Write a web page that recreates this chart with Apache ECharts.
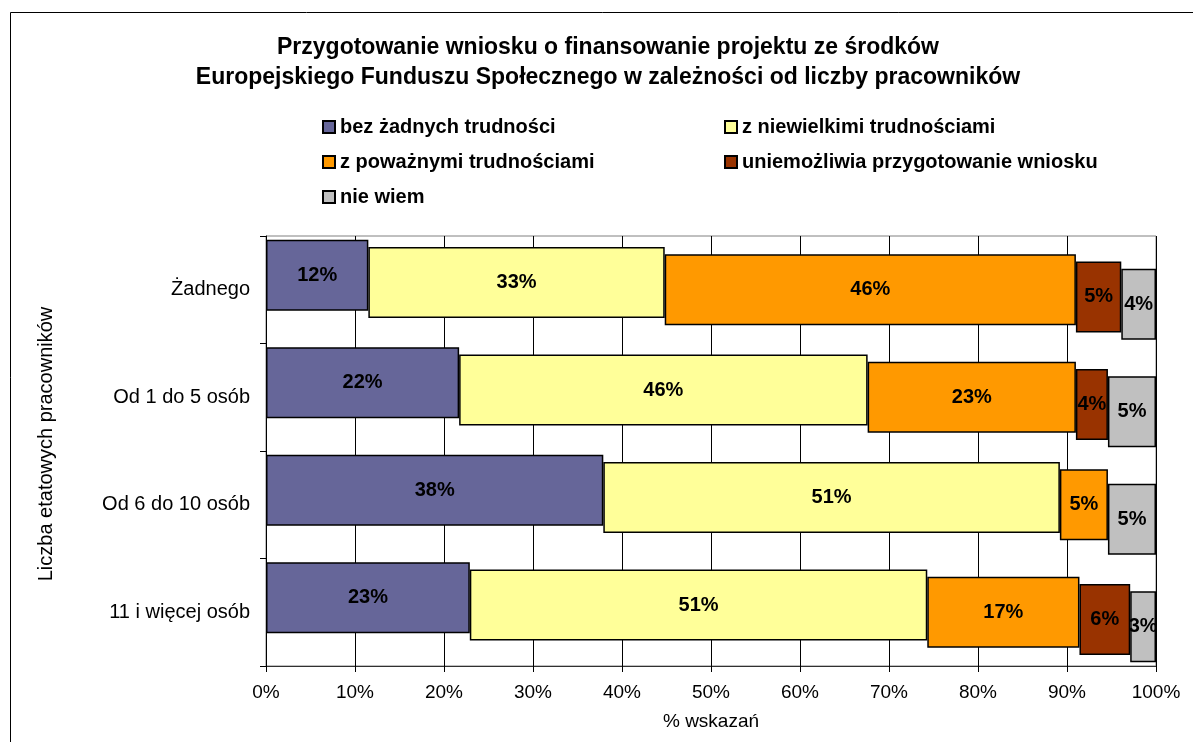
<!DOCTYPE html>
<html>
<head>
<meta charset="utf-8">
<script src="https://cdn.jsdelivr.net/npm/echarts@6/dist/echarts.min.js"></script>
<style>
html,body{margin:0;padding:0;background:#fff;}
#chart{width:1193px;height:742px;}
</style>
</head>
<body>
<div id="chart"></div>
<script>
// ---- data ----
var titleText = 'Przygotowanie wniosku o finansowanie projektu ze środków\nEuropejskiego Funduszu Społecznego w zależności od liczby pracowników';
var categories = ['Żadnego', 'Od 1 do 5 osób', 'Od 6 do 10 osób', '11 i więcej osób'];
var seriesNames = ['bez żadnych trudności', 'z niewielkimi trudnościami', 'z poważnymi trudnościami', 'uniemożliwia przygotowanie wniosku', 'nie wiem'];
var bezTrudnosci = [11.5, 21.7, 37.9, 22.9];
var niewielkie   = [33.3, 45.9, 51.3, 51.4];
var powazne      = [46.2, 23.4, 5.4, 17.1];
var uniemozliwia = [5.1, 3.6, 0, 5.7];
var nieWiem      = [3.9, 5.4, 5.4, 2.9];
var xAxisName = '% wskazań';
var yAxisName = 'Liczba etatowych pracowników';

var seriesValues = [bezTrudnosci, niewielkie, powazne, uniemozliwia, nieWiem];
var colors = ['#666699', '#FFFF99', '#FF9900', '#993300', '#C0C0C0'];

var FONT = "'Liberation Sans', Arial, sans-serif";
var PLOT_LEFT = 266, PLOT_TOP = 236, PLOT_W = 890, PLOT_H = 430;
var STEP = 7.2; // depth offset of successive series

var grids = [{left: PLOT_LEFT, top: PLOT_TOP, width: PLOT_W, height: PLOT_H, show: true, borderColor: '#808080', borderWidth: 1, containLabel: false}];
var xAxes = [{
  gridIndex: 0, type: 'value', min: 0, max: 100, interval: 10,
  name: xAxisName, nameLocation: 'middle', nameGap: 46,
  nameTextStyle: {fontFamily: FONT, fontSize: 19, color: '#000'},
  axisLine: {show: true, lineStyle: {color: '#303030', width: 1}},
  axisTick: {show: true, length: 6, lineStyle: {color: '#000'}},
  axisLabel: {formatter: '{value}%', fontFamily: FONT, fontSize: 19, color: '#000', margin: 17},
  splitLine: {show: true, lineStyle: {color: '#000', width: 1}}
}];
var yAxes = [{
  gridIndex: 0, type: 'category', data: categories, inverse: true,
  name: yAxisName, nameLocation: 'middle', nameGap: 210, nameRotate: 90,
  nameTextStyle: {fontFamily: FONT, fontSize: 20, color: '#000', padding: [0, 0, 0, 14]},
  axisLine: {show: true, lineStyle: {color: '#000', width: 1}},
  axisTick: {show: true, length: 6, lineStyle: {color: '#000'}},
  axisLabel: {fontFamily: FONT, fontSize: 20, color: '#000', margin: 16},
  splitLine: {show: false}
}];
var series = [];

for (var i = 0; i < seriesValues.length; i++) {
  var gi = i + 1;
  grids.push({left: PLOT_LEFT, top: PLOT_TOP + (i - 2) * STEP, width: PLOT_W, height: PLOT_H, show: false});
  xAxes.push({gridIndex: gi, type: 'value', min: 0, max: 100, show: false});
  yAxes.push({gridIndex: gi, type: 'category', data: categories, inverse: true, show: false});
  // cumulative base of previous series
  var base = categories.map(function (c, k) {
    var s = 0;
    for (var j = 0; j < i; j++) s += seriesValues[j][k];
    return +s.toFixed(4);
  });
  series.push({
    name: '_base' + i, type: 'bar', xAxisIndex: gi, yAxisIndex: gi, stack: 'st' + i,
    data: base, barWidth: 71, silent: true,
    itemStyle: {color: 'rgba(0,0,0,0)', borderWidth: 0}, label: {show: false}
  });
  series.push({
    name: seriesNames[i], type: 'bar', xAxisIndex: gi, yAxisIndex: gi, stack: 'st' + i,
    data: seriesValues[i].map(function (v) { return v > 0 ? v : '-'; }),
    barWidth: 71,
    itemStyle: {color: colors[i], borderColor: '#000', borderWidth: 1.5},
    label: {
      show: true, position: 'inside', color: '#000', fontFamily: FONT, fontSize: 20, fontWeight: 'bold',
      formatter: function (p) { return p.value > 0 ? Math.round(p.value) + '%' : ''; }
    }
  });
}

var chart = echarts.init(document.getElementById('chart'), null, {renderer: 'canvas'});
chart.setOption({
  backgroundColor: '#fff',
  animation: false,
  color: colors,
  title: {
    text: titleText, left: 608, top: 33, textAlign: 'center', padding: 0,
    textStyle: {fontFamily: FONT, fontSize: 23, fontWeight: 'bold', color: '#000', lineHeight: 30}
  },
  legend: [
    {data: [seriesNames[0], seriesNames[2], seriesNames[4]], orient: 'vertical', left: 322, top: 117,
     itemWidth: 12, itemHeight: 12, itemGap: 15, icon: 'rect', padding: 0,
     textStyle: {fontFamily: FONT, fontSize: 20, fontWeight: 'bold', color: '#000'}},
    {data: [seriesNames[1], seriesNames[3]], orient: 'vertical', left: 724, top: 117,
     itemWidth: 12, itemHeight: 12, itemGap: 15, icon: 'rect', padding: 0,
     textStyle: {fontFamily: FONT, fontSize: 20, fontWeight: 'bold', color: '#000'}}
  ],
  grid: grids,
  xAxis: xAxes,
  yAxis: yAxes,
  series: series,
  graphic: [{
    type: 'rect', silent: true, z: 100,
    shape: {x: 10.5, y: 12.5, width: 1300, height: 900},
    style: {fill: 'none', stroke: '#000', lineWidth: 1}
  }]
});
</script>
</body>
</html>
